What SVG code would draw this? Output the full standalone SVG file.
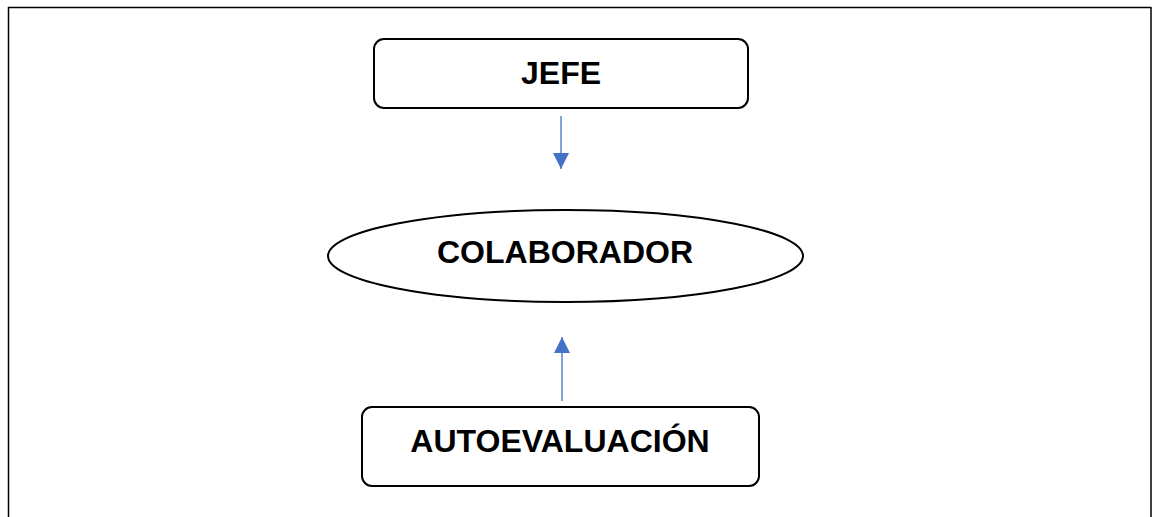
<svg xmlns="http://www.w3.org/2000/svg" width="1152" height="517" viewBox="0 0 1152 517">
<style>
.box{fill:#fff;stroke:#000;stroke-width:2}
.lbl{font-family:"Liberation Sans",Arial,sans-serif;font-weight:bold;font-size:32px;fill:#000;text-anchor:middle}
.conn{stroke:#4472C4;stroke-width:1.3;fill:none}
</style>
<defs>
<marker id="ah" viewBox="0 0 16 16" refX="16" refY="8" markerWidth="16" markerHeight="16" markerUnits="userSpaceOnUse" orient="auto">
<path d="M0,0 L16,8 L0,16 Z" fill="#4472C4"/>
</marker>
</defs>
<rect width="1152" height="517" fill="#fff"/>
<path d="M8.5,517 L8.5,7.5 L1151,7.5" fill="none" stroke="#000" stroke-width="1.5"/>
<line x1="1151" y1="7" x2="1151" y2="517" stroke="#000" stroke-width="1.5"/>
<g id="jefe">
<rect class="box" x="374" y="39" width="374" height="69" rx="10"/>
<text class="lbl" x="561" y="84">JEFE</text>
</g>
<g id="colaborador">
<ellipse class="box" cx="565.5" cy="256" rx="237.5" ry="46"/>
<text class="lbl" x="565" y="263">COLABORADOR</text>
</g>
<g id="autoevaluacion">
<rect class="box" x="362" y="407" width="397" height="79" rx="10"/>
<text class="lbl" x="560" y="452">AUTOEVALUACIÓN</text>
</g>
<g id="connectors">
<line class="conn" x1="561" y1="116" x2="561" y2="169" marker-end="url(#ah)"/>
<line class="conn" x1="562" y1="401" x2="562" y2="337" marker-end="url(#ah)"/>
</g>
</svg>
